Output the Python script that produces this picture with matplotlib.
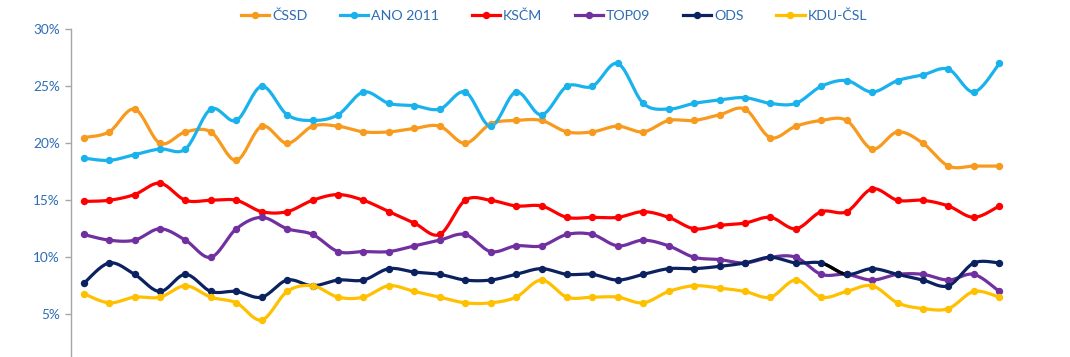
import numpy as np
import matplotlib
matplotlib.use("Agg")
import matplotlib.pyplot as plt
from matplotlib.lines import Line2D
from matplotlib.ticker import FuncFormatter

# ---- data (percent) ----
parties = ["ČSSD", "ANO 2011", "KSČM", "TOP09", "ODS", "KDU-ČSL"]
cssd = [20.5, 21, 23, 20, 21, 21, 18.5, 21.5, 20, 21.5, 21.5, 21, 21, 21.3, 21.5, 20, 21.7, 22, 22,
        21, 21, 21.5, 21, 22, 22, 22.5, 23, 20.5, 21.5, 22, 22, 19.5, 21, 20, 18, 18, 18]
ano = [18.7, 18.5, 19, 19.5, 19.5, 23, 22, 25, 22.5, 22, 22.5, 24.5, 23.5, 23.3, 23, 24.5, 21.5, 24.5, 22.5,
       25, 25, 27, 23.5, 23, 23.5, 23.8, 24, 23.5, 23.5, 25, 25.5, 24.5, 25.5, 26, 26.5, 24.5, 27]
kscm = [14.9, 15, 15.5, 16.5, 15, 15, 15, 14, 14, 15, 15.5, 15, 14, 13, 12, 15, 15, 14.5, 14.5,
        13.5, 13.5, 13.5, 14, 13.5, 12.5, 12.8, 13, 13.5, 12.5, 14, 14, 16, 15, 15, 14.5, 13.5, 14.5]
top09 = [12, 11.5, 11.5, 12.5, 11.5, 10, 12.5, 13.5, 12.5, 12, 10.5, 10.5, 10.5, 11, 11.5, 12, 10.5, 11, 11,
         12, 12, 11, 11.5, 11, 10, 9.8, 9.5, 10, 10, 8.5, 8.5, 8, 8.5, 8.5, 8, 8.5, 7]
ods = [7.7, 9.5, 8.5, 7, 8.5, 7, 7, 6.5, 8, 7.5, 8, 8, 9, 8.7, 8.5, 8, 8, 8.5, 9,
       8.5, 8.5, 8, 8.5, 9, 9, 9.2, 9.5, 10, 9.5, 9.5, 8.5, 9, 8.5, 8, 7.5, 9.5, 9.5]
kdu = [6.8, 6, 6.5, 6.5, 7.5, 6.5, 6, 4.5, 7, 7.5, 6.5, 6.5, 7.5, 7, 6.5, 6, 6, 6.5, 8,
       6.5, 6.5, 6.5, 6, 7, 7.5, 7.3, 7, 6.5, 8, 6.5, 7, 7.5, 6, 5.5, 5.5, 7, 6.5]
series = [cssd, ano, kscm, top09, ods, kdu]
colors = ["#F79A1E", "#1AB2EC", "#FF0000", "#7030A0", "#0B2160", "#FFC000"]
yticks = [5, 10, 15, 20, 25, 30]

TEXT = "#2E6DB4"
plt.rcParams['font.family'] = ['Lato', 'DejaVu Sans']


def smooth(x, y, n=20):
    """Catmull-Rom style bezier smoothing through points (like Excel smoothed lines)."""
    x = np.asarray(x, float)
    y = np.asarray(y, float)
    px = np.concatenate([[x[0]], x, [x[-1]]])
    py = np.concatenate([[y[0]], y, [y[-1]]])
    xs, ys = [], []
    t = np.linspace(0, 1, n)
    for i in range(1, len(px) - 2):
        p0 = np.array([px[i - 1], py[i - 1]])
        p1 = np.array([px[i], py[i]])
        p2 = np.array([px[i + 1], py[i + 1]])
        p3 = np.array([px[i + 2], py[i + 2]])
        c1 = p1 + (p2 - p0) / 6
        c2 = p2 - (p3 - p1) / 6
        b = ((1 - t) ** 3)[:, None] * p1 + (3 * (1 - t) ** 2 * t)[:, None] * c1 + \
            (3 * (1 - t) * t ** 2)[:, None] * c2 + (t ** 3)[:, None] * p2
        xs.append(b[:, 0])
        ys.append(b[:, 1])
    return np.concatenate(xs), np.concatenate(ys)


LW = 2.3
MS = 4.3
fig = plt.figure(figsize=(10.7, 3.57), dpi=100)
ax = fig.add_axes([71 / 1070, 0.0, 941 / 1070, (357 - 29.3) / 357])

x = np.arange(len(cssd))
for name, vals, c in zip(parties, series, colors):
    sx, sy = smooth(x, vals)
    ax.plot(sx, sy, color=c, lw=LW, solid_capstyle='round', zorder=3)
    ax.plot(x, vals, 'o', color=c, ms=MS, zorder=4)

# black segment artefact on the ODS line
sx, sy = smooth(x, ods)
n = 20
ax.plot(sx[29 * n:30 * n], sy[29 * n:30 * n], color='black', lw=LW, zorder=3.5)

ax.set_xlim(-0.5, len(cssd) - 0.5)
ax.set_ylim(1.25, 30)
ax.set_yticks(yticks)
ax.yaxis.set_major_formatter(FuncFormatter(lambda v, p: f"{v:.0f}%"))
ax.tick_params(axis='y', colors='#A6A6A6', labelcolor=TEXT, labelsize=9.8, length=4, width=1, pad=4)
ax.set_xticks([])
for s in ['top', 'right', 'bottom']:
    ax.spines[s].set_visible(False)
ax.spines['left'].set_color('#A6A6A6')
ax.spines['left'].set_linewidth(1)
ax.patch.set_visible(False)

handles = [Line2D([0], [0], color=c, lw=LW, marker='o', ms=MS) for c in colors]
leg = fig.legend(handles, parties, loc='center', bbox_to_anchor=(554 / 1070, 1 - 16 / 357), ncol=6,
                 frameon=False, fontsize=10.2, handlelength=2.0, handletextpad=0.2, columnspacing=2.3,
                 labelcolor=TEXT)

fig.savefig("out.png", dpi=100)
